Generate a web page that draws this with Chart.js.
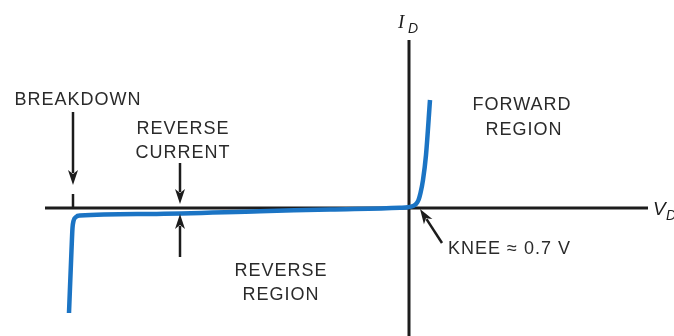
<!DOCTYPE html>
<html><head><meta charset="utf-8">
<script src="https://cdn.jsdelivr.net/npm/chart.js@4.4.1/dist/chart.umd.min.js"></script>
<style>html,body{margin:0;padding:0;background:#fff}#w{width:674px;height:336px;position:relative}</style>
</head><body><div id="w"><canvas id="c"></canvas></div>
<script>
// Diode V-I characteristic (arbitrary units)
const VD = [-33.9, -33.65, -33.55, -33.45, -33.2, -32.8, -25.8, -14.8, -7.8, -0.8, 0, 0.5, 0.8, 1.05, 1.25, 1.5, 1.8, 2.2];
const ID = [-10.5, -4.2, -2.0, -1.3, -0.9, -0.76, -0.59, -0.32, -0.14, 0.03, 0.08, 0.2, 0.4, 0.8, 1.5, 2.8, 5.3, 10.8];

// axes extents
const axisVD = [-36.3, 24.0];
const axisID = [16.8, -12.8];

// text labels
const labelText = ["BREAKDOWN", "REVERSE", "CURRENT", "FORWARD", "REGION", "REVERSE", "REGION", "KNEE \u2248 0.7 V"];
const labelX    = [-33.0, -22.5, -22.5, 11.4, 11.6, -12.7, -12.7, 4.0];
const labelY    = [10.9, 8.05, 5.65, 10.4, 7.95, -6.2, -8.6, -3.95];
const labelAlign = ["center", "center", "center", "center", "center", "center", "center", "left"];

// arrows: from (x0,y0) to tip (x1,y1)
const arrowX0 = [-33.5, -22.8, -22.8, 3.4];
const arrowY0 = [9.6, 4.5, -4.9, -3.5];
const arrowX1 = [-33.5, -22.8, -22.8, 1.2];
const arrowY1 = [2.3, 0.4, -0.6, -0.1];

// breakdown tick
const tickX = [-33.5];
const tickY0 = [1.4];
const tickY1 = [0];

const INK = '#2a2a2a';
const overlay = {
  id: 'overlay',
  afterDatasetsDraw(chart) {
    const {ctx, scales: {x, y}} = chart;
    ctx.save();
    // tick
    ctx.strokeStyle = '#1c1c1c';
    ctx.lineWidth = 2.5;
    for (let i = 0; i < tickX.length; i++) {
      ctx.beginPath();
      ctx.moveTo(x.getPixelForValue(tickX[i]), y.getPixelForValue(tickY0[i]));
      ctx.lineTo(x.getPixelForValue(tickX[i]), y.getPixelForValue(tickY1[i]));
      ctx.stroke();
    }
    // arrows
    for (let i = 0; i < arrowX0.length; i++) {
      const ax = x.getPixelForValue(arrowX0[i]), ay = y.getPixelForValue(arrowY0[i]);
      const bx = x.getPixelForValue(arrowX1[i]), by = y.getPixelForValue(arrowY1[i]);
      const ang = Math.atan2(by - ay, bx - ax);
      const L = 15, W = 5;
      const cx = bx - L * Math.cos(ang), cy = by - L * Math.sin(ang);
      ctx.beginPath();
      ctx.moveTo(ax, ay);
      ctx.lineTo(bx - (L - 3) * Math.cos(ang), by - (L - 3) * Math.sin(ang));
      ctx.stroke();
      const nx = -Math.sin(ang), ny = Math.cos(ang);
      ctx.fillStyle = '#1c1c1c';
      ctx.beginPath();
      ctx.moveTo(bx, by);
      ctx.lineTo(cx + nx * W, cy + ny * W);
      ctx.lineTo(bx - (L - 4) * Math.cos(ang), by - (L - 4) * Math.sin(ang));
      ctx.lineTo(cx - nx * W, cy - ny * W);
      ctx.closePath();
      ctx.fill();
    }
    // labels
    const fs = 18;
    ctx.fillStyle = INK;
    ctx.font = fs + 'px "Liberation Sans", Arial, sans-serif';
    try { ctx.letterSpacing = '1px'; } catch (e) {}
    ctx.textBaseline = 'alphabetic';
    for (let i = 0; i < labelText.length; i++) {
      ctx.textAlign = labelAlign[i];
      ctx.fillText(labelText[i], x.getPixelForValue(labelX[i]), y.getPixelForValue(labelY[i]) + 0.36 * fs);
    }
    try { ctx.letterSpacing = '0px'; } catch (e) {}
    // axis titles
    ctx.textAlign = 'left';
    ctx.fillStyle = '#1c1c1c';
    const ix = x.getPixelForValue(-1.0), iy = y.getPixelForValue(18.0);
    ctx.font = 'italic 19px "Liberation Serif", serif';
    ctx.fillText('I', ix, iy);
    ctx.font = 'italic 14px "Liberation Sans", sans-serif';
    ctx.fillText('D', ix + 10, iy + 5);
    const vx = x.getPixelForValue(24.5), vy = y.getPixelForValue(-0.7);
    ctx.font = 'italic 19px "Liberation Sans", sans-serif';
    ctx.fillText('V', vx, vy);
    ctx.font = 'italic 14px "Liberation Sans", sans-serif';
    ctx.fillText('D', vx + 13, vy + 5);
    ctx.restore();
  }
};

new Chart(document.getElementById('c'), {
  type: 'scatter',
  data: {
    datasets: [
      {
        data: VD.map((v, i) => ({x: v, y: ID[i]})),
        showLine: true, borderColor: '#1b74c4', borderWidth: 4.5, pointRadius: 0,
        cubicInterpolationMode: 'monotone', borderCapStyle: 'butt', borderJoinStyle: 'round', order: 0
      },
      {
        data: [{x: axisVD[0], y: 0}, {x: axisVD[1], y: 0}],
        showLine: true, borderColor: '#1c1c1c', borderWidth: 3, pointRadius: 0, order: 1
      },
      {
        data: [{x: 0.1, y: axisID[0]}, {x: 0.1, y: axisID[1]}],
        showLine: true, borderColor: '#1c1c1c', borderWidth: 3, pointRadius: 0, order: 1
      }
    ]
  },
  options: {
    responsive: true, maintainAspectRatio: false, animation: false, events: [],
    layout: {padding: 0},
    plugins: {legend: {display: false}, tooltip: {enabled: false}},
    scales: {
      x: {type: 'linear', min: -40.8, max: 26.6, display: false},
      y: {type: 'linear', min: -12.8, max: 20.8, display: false}
    }
  },
  plugins: [overlay]
});
</script>
</body></html>
